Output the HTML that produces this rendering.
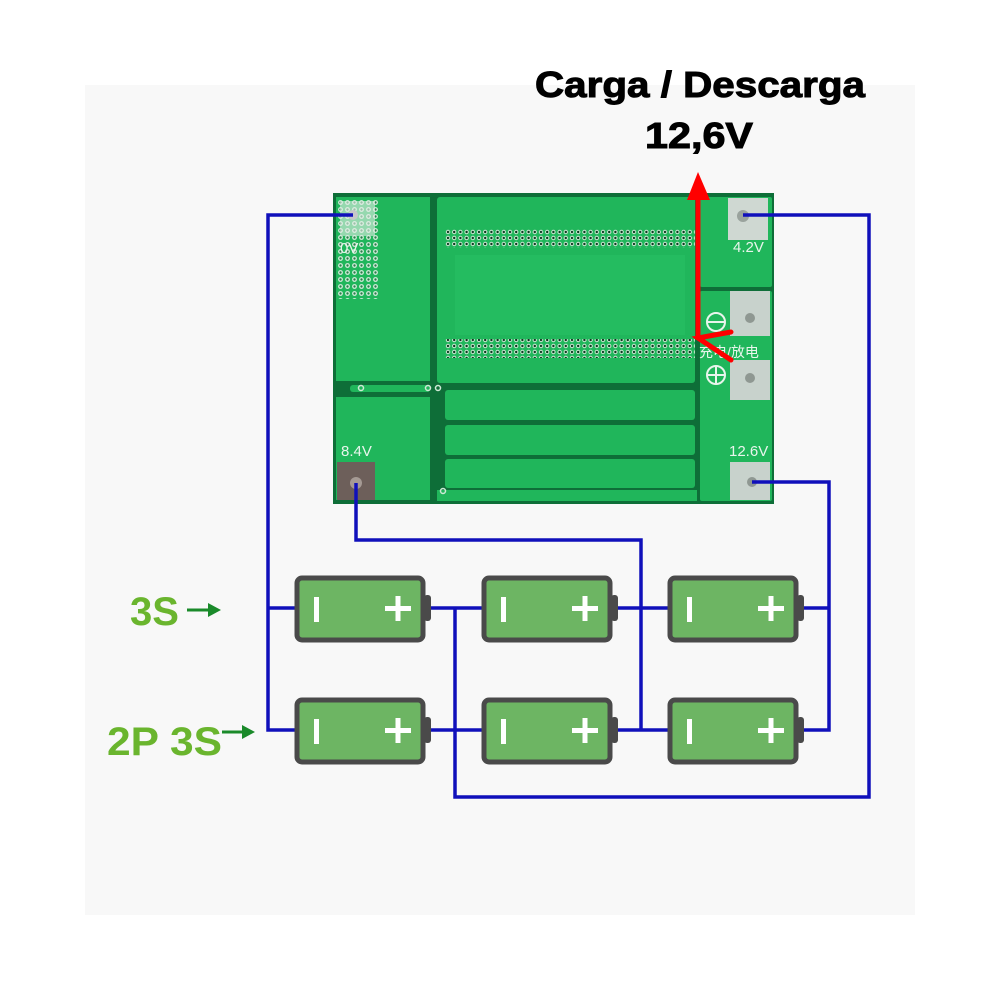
<!DOCTYPE html>
<html><head><meta charset="utf-8"><style>
html,body{margin:0;padding:0;background:#fff;}
svg{display:block;}
</style></head><body>
<svg width="1000" height="1000" viewBox="0 0 1000 1000" xmlns="http://www.w3.org/2000/svg">
<defs>
<pattern id="dots" x="445" y="229" width="6.2" height="6" patternUnits="userSpaceOnUse">
<circle cx="3" cy="3" r="2.2" fill="#cfe9d6"/><circle cx="3" cy="3" r="1.2" fill="#0b3a1e"/>
</pattern>
<pattern id="dots2" x="337" y="199" width="7" height="7" patternUnits="userSpaceOnUse">
<circle cx="3.5" cy="3.5" r="2.4" fill="#d9efe0"/><circle cx="3.5" cy="3.5" r="1.2" fill="#2a7d4a"/>
</pattern>
</defs>
<rect x="85" y="85" width="830" height="830" fill="#f8f8f8"/>

<!-- PCB -->
<rect x="333" y="193" width="441" height="311" fill="#0e6e38"/>
<rect x="336" y="197" width="94" height="184" fill="#20b65b"/>
<rect x="336" y="397" width="94" height="103" fill="#20b65b"/>
<rect x="350" y="385" width="80" height="7" rx="3" fill="#20b65b"/>
<rect x="437" y="197" width="258" height="186" rx="3" fill="#20b65b"/>
<rect x="445" y="390" width="250" height="30" rx="3" fill="#20b65b"/>
<rect x="445" y="425" width="250" height="30" rx="3" fill="#20b65b"/>
<rect x="445" y="459" width="250" height="29" rx="3" fill="#20b65b"/>
<rect x="700" y="197" width="72" height="90" rx="2" fill="#20b65b"/>
<rect x="700" y="291" width="72" height="210" rx="2" fill="#20b65b"/>
<rect x="437" y="490" width="260" height="11" fill="#20b65b"/>
<rect x="455" y="255" width="230" height="80" fill="#26bf63" opacity="0.7"/>
<rect x="445" y="229" width="250" height="19" fill="url(#dots)"/>
<rect x="445" y="339" width="250" height="19" fill="url(#dots)"/>
<!-- 0V pad -->
<rect x="337" y="199" width="42" height="100" fill="url(#dots2)"/>
<rect x="340" y="201" width="35" height="35" fill="#e6efe8" opacity="0.6"/>
<circle cx="353" cy="215" r="5" fill="#c8c8c8"/>
<text x="340" y="253" font-family="Liberation Sans, sans-serif" font-size="15" fill="#e8f5ec">0V</text>
<!-- 4.2V pad -->
<rect x="728" y="198" width="40" height="42" fill="#cfd8d2"/>
<circle cx="743" cy="216" r="6" fill="#9aa39d"/>
<text x="733" y="252" font-family="Liberation Sans, sans-serif" font-size="15" fill="#e8f5ec">4.2V</text>
<!-- middle pads -->
<rect x="730" y="291" width="40" height="45" fill="#c8d2cc"/>
<circle cx="750" cy="318" r="5" fill="#8f9892"/>
<rect x="730" y="360" width="40" height="40" fill="#c8d2cc"/>
<circle cx="750" cy="378" r="5" fill="#8f9892"/>
<circle cx="716" cy="322" r="9" fill="none" stroke="#e8f5ec" stroke-width="2"/><line x1="707" y1="322" x2="725" y2="322" stroke="#e8f5ec" stroke-width="2"/>
<circle cx="716" cy="375" r="9" fill="none" stroke="#e8f5ec" stroke-width="2"/><line x1="707" y1="375" x2="725" y2="375" stroke="#e8f5ec" stroke-width="2"/><line x1="716" y1="366" x2="716" y2="384" stroke="#e8f5ec" stroke-width="2"/>
<text x="699" y="357" font-family="Liberation Sans, Noto Sans CJK SC, sans-serif" font-size="14" fill="#e8f5ec">充电/放电</text>
<!-- 12.6V pad -->
<rect x="730" y="462" width="40" height="38" fill="#c8d2cc"/>
<circle cx="752" cy="482" r="5" fill="#8f9892"/>
<text x="729" y="456" font-family="Liberation Sans, sans-serif" font-size="15" fill="#e8f5ec">12.6V</text>
<!-- 8.4V pad -->
<rect x="337" y="462" width="38" height="38" fill="#6d5f5a"/>
<circle cx="356" cy="483" r="6" fill="#a59a94"/>
<text x="341" y="456" font-family="Liberation Sans, sans-serif" font-size="15" fill="#e8f5ec">8.4V</text>
<g fill="none" stroke="#cfe9d6" stroke-width="1.5">
<circle cx="361" cy="388" r="2.5"/><circle cx="428" cy="388" r="2.5"/><circle cx="438" cy="388" r="2.5"/><circle cx="443" cy="491" r="2.5"/>
</g>

<!-- Blue wires -->
<g fill="none" stroke="#1010bb" stroke-width="3.5">
<polyline points="353,215 268,215 268,730 295,730"/>
<line x1="268" y1="608" x2="295" y2="608"/>
<polyline points="743,215 869,215 869,797 455,797 455,608"/>
<line x1="428" y1="608" x2="483" y2="608"/>
<line x1="428" y1="730" x2="483" y2="730"/>
<polyline points="356,483 356,540 641,540 641,730"/>
<line x1="612" y1="608" x2="669" y2="608"/>
<line x1="612" y1="730" x2="669" y2="730"/>
<polyline points="752,482 829,482 829,730 800,730"/>
<line x1="800" y1="608" x2="829" y2="608"/>
</g>

<!-- Batteries -->
<g id="bat">
<rect x="424" y="595" width="7" height="26" rx="3" fill="#4a4a4a"/>
<rect x="297" y="578" width="126" height="62" rx="5" fill="#6db563" stroke="#4a4a4a" stroke-width="5"/>
<rect x="314" y="597" width="5" height="25" fill="#fff"/>
<rect x="385" y="606" width="26" height="5" fill="#fff"/>
<rect x="395.5" y="596" width="5" height="25" fill="#fff"/>
</g>
<use href="#bat" x="187" y="0"/>
<use href="#bat" x="373" y="0"/>
<use href="#bat" x="0" y="122"/>
<use href="#bat" x="187" y="122"/>
<use href="#bat" x="373" y="122"/>

<!-- Labels -->
<text x="130" y="625" font-family="Liberation Sans, sans-serif" font-weight="bold" font-size="40" fill="#6ab52e">3S</text>
<line x1="187" y1="610" x2="210" y2="610" stroke="#1a8a2a" stroke-width="3"/>
<polygon points="208,603 221,610 208,617" fill="#1a8a2a"/>
<text x="107" y="755" font-family="Liberation Sans, sans-serif" font-weight="bold" font-size="40" fill="#6ab52e" textLength="115" lengthAdjust="spacingAndGlyphs">2P 3S</text>
<line x1="222" y1="732" x2="244" y2="732" stroke="#1a8a2a" stroke-width="3"/>
<polygon points="242,725 255,732 242,739" fill="#1a8a2a"/>

<text x="535" y="97" font-family="Liberation Sans, sans-serif" font-weight="bold" font-size="36" fill="#000" textLength="330" lengthAdjust="spacingAndGlyphs" stroke="#000" stroke-width="1">Carga / Descarga</text>
<text x="645" y="148" font-family="Liberation Sans, sans-serif" font-weight="bold" font-size="36" fill="#000" textLength="108" lengthAdjust="spacingAndGlyphs" stroke="#000" stroke-width="1">12,6V</text>

<!-- Red arrow -->
<g stroke="#f00" stroke-width="5" fill="none" stroke-linecap="round">
<line x1="698" y1="338" x2="698" y2="190"/>
<polyline points="731,332 698,338 731,360"/>
</g>
<polygon points="687,200 698,172 710,200" fill="#f00"/>
</svg>
</body></html>
